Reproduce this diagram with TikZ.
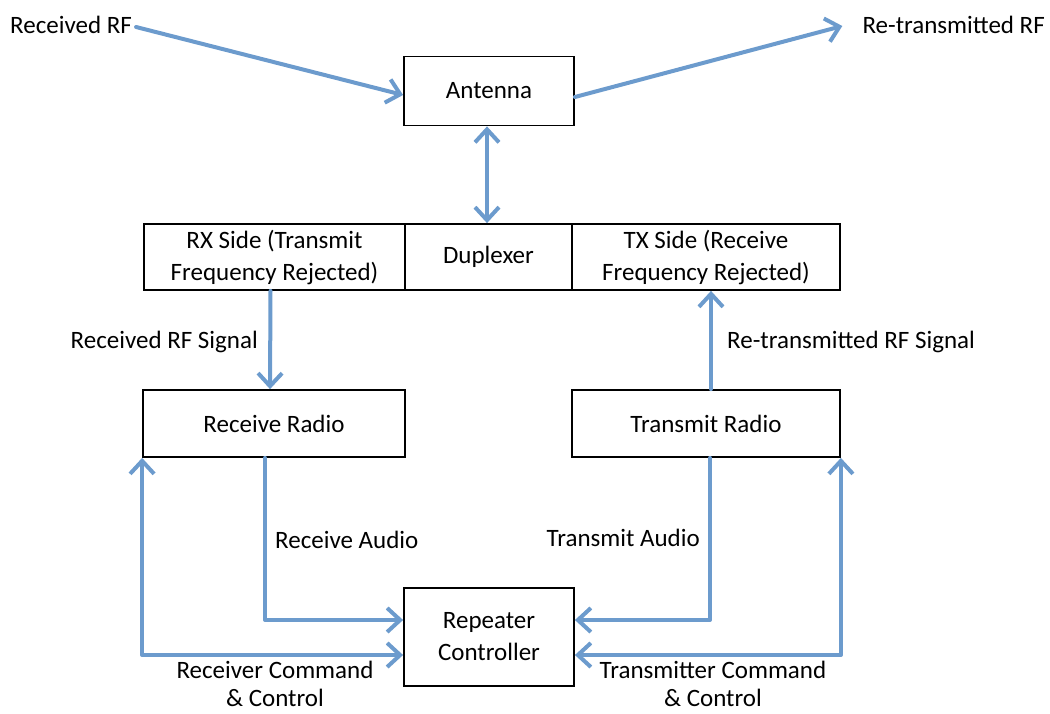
\documentclass[tikz,border=0pt]{standalone}
\usepackage{fontspec}
\setmainfont{Carlito}
\usetikzlibrary{arrows.meta,calc}
\definecolor{linkblue}{RGB}{108,155,205}
\begin{document}
\begin{tikzpicture}[x=1pt,y=-1pt,
  every node/.style={font=\fontsize{25}{32}\selectfont, inner sep=0pt},
  blk/.style={draw=black, line width=1.8pt, minimum height=67pt, align=center},
  lbl/.style={align=center, font=\fontsize{25}{28}\selectfont},
  link/.style={draw=linkblue, line width=4pt, line cap=round, line join=round,
    -{Straight Barb[length=13pt, width=24pt, line width=4pt]}},
  twoway/.style={link, {Straight Barb[length=13pt, width=24pt, line width=4pt]}-{Straight Barb[length=13pt, width=24pt, line width=4pt]}}
]
\useasboundingbox (0,0) rectangle (1050,713);

% RF in / out
\node[anchor=west] (rxrf) at (10,25) {Received RF};
\node[anchor=east] (txrf) at (1045,25) {Re-transmitted RF};

% antenna
\node[blk, minimum width=170pt, minimum height=69pt] (ant) at (489,91) {Antenna};

% duplexer row
\node[blk, minimum width=261pt, minimum height=66pt] (rxs) at (274.5,257) {RX Side (Transmit\\Frequency Rejected)};
\node[blk, minimum width=167pt, minimum height=66pt] (dup) at (488.5,257) {Duplexer};
\node[blk, minimum width=268pt, minimum height=66pt] (txs) at (706,257) {TX Side (Receive\\Frequency Rejected)};

% radios
\node[blk, minimum width=262pt] (rr) at (274,423.5) {Receive Radio};
\node[blk, minimum width=268pt] (tr) at (706,423.5) {Transmit Radio};

% controller
\node[blk, minimum width=170pt, minimum height=98pt] (rc) at (489,637) {Repeater\\Controller};

% connector labels
\node[anchor=east] (l1) at (258,342) {Received RF Signal};
\node[anchor=west] (l2) at (727,342) {Re-transmitted RF Signal};
\node[anchor=west] (l3) at (275,540) {Receive Audio};
\node[anchor=east] (l4) at (700,538) {Transmit Audio};
\node[lbl] (l5) at (275,684) {Receiver Command\\\& Control};
\node[lbl] (l6) at (713,684) {Transmitter Command\\\& Control};

% connectors
\draw[link] ([xshift=4pt,yshift=-2pt]rxrf.east) -- ([yshift=-4pt]ant.west);
\draw[link] ([yshift=-6pt]ant.east) -- ([xshift=-20pt,yshift=-1pt]txrf.west);
\draw[twoway] ([xshift=-2pt]ant.south) -- ([xshift=-1.5pt]dup.north);
\draw[link] ([xshift=-4pt]rxs.south) -- ([xshift=-4pt]rr.north);
\draw[link] ([xshift=5pt]tr.north) -- ([xshift=5pt]txs.south);
\draw[link] ([xshift=-9pt]rr.south) |- ([yshift=17pt]rc.west);
\draw[link] ([xshift=4pt]tr.south) |- ([yshift=17pt]rc.east);
\draw[twoway] ([yshift=-18pt]rc.west) -| (rr.south west);
\draw[twoway] ([yshift=-18pt]rc.east) -| (tr.south east);
\end{tikzpicture}
\end{document}
